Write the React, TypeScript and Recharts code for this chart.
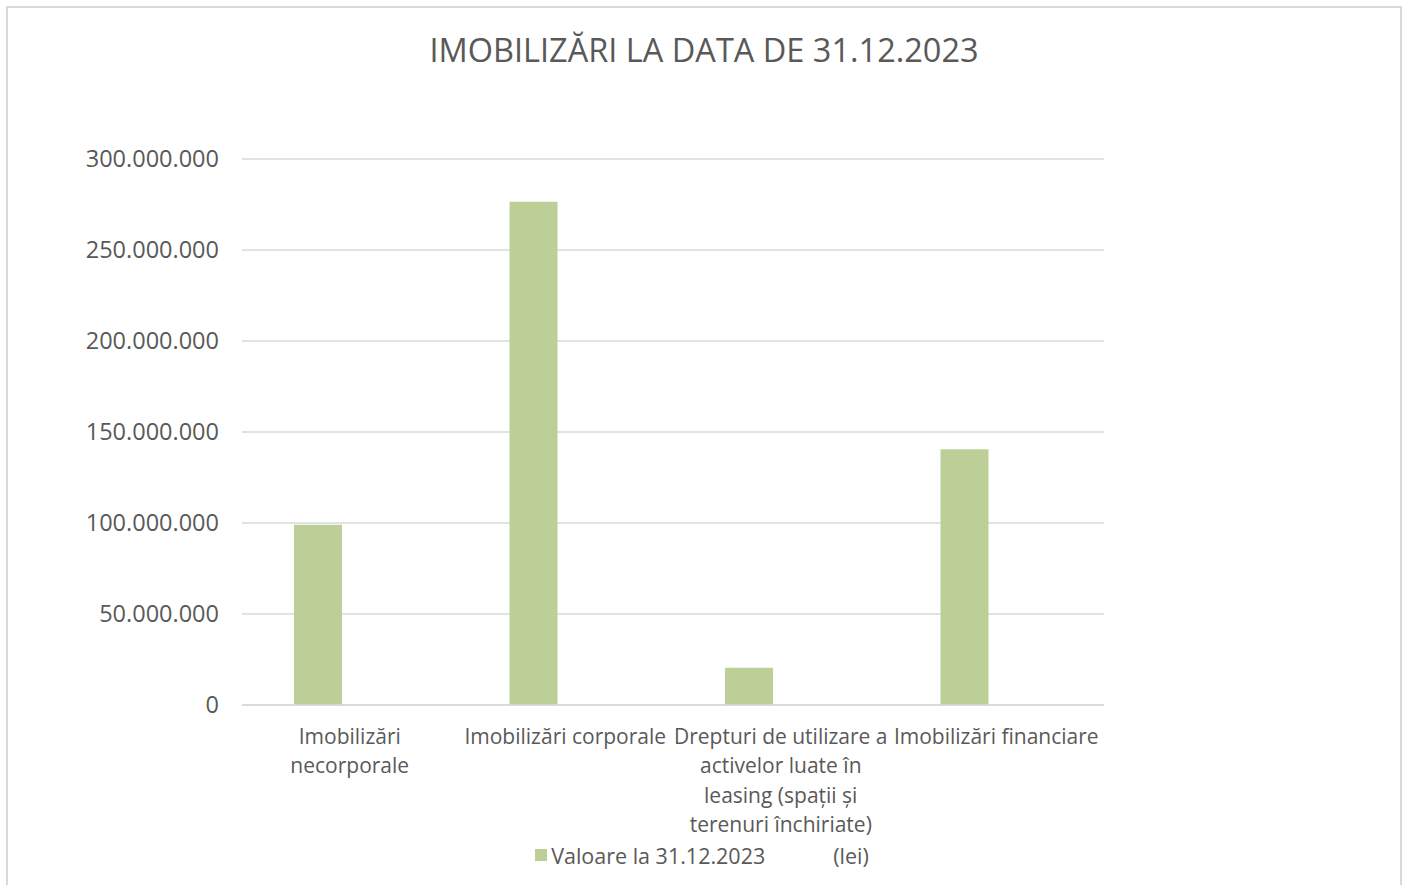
import React from "react";
import { Bar, BarChart, CartesianGrid, Legend, XAxis, YAxis } from "recharts";

const categories = [
  "Imobilizări\nnecorporale",
  "Imobilizări corporale",
  "Drepturi de utilizare a\nactivelor luate în\nleasing (spații și\nterenuri închiriate)",
  "Imobilizări financiare",
];
const values = [99000000, 276500000, 20500000, 140500000];
// the "(lei)" series has no values in the source chart
const leiValues = [null, null, null, null];
const yTicks = [0, 50000000, 100000000, 150000000, 200000000, 250000000, 300000000];
const seriesName = "Valoare la 31.12.2023";
const leiName = "(lei)";
const title = "IMOBILIZĂRI LA DATA DE 31.12.2023";

const data = categories.map((c, i) => ({ cat: c, val: values[i], lei: leiValues[i] }));

const FONT = "'Open Sans', 'DejaVu Sans', sans-serif";
const TEXT = "#595959";
const GRID = "#D9D9D9";
const BAR = "#BBCF96";

const fmt = (v: number) => (v === 0 ? "0" : v.toLocaleString("de-DE"));

function CatTick({ x, y, payload }: { x?: number; y?: number; payload?: { value: string } }) {
  const lines = String(payload?.value ?? "").split("\n");
  return (
    <text x={x} y={y} textAnchor="middle" fill={TEXT} fontSize={21} fontFamily={FONT}>
      {lines.map((l, i) => (
        <tspan key={i} x={x} dy={i === 0 ? 31 : 29.3}>
          {l}
        </tspan>
      ))}
    </text>
  );
}

function LegendContent({ payload }: { payload?: { value: string; dataKey?: string }[] }) {
  const items = [...(payload ?? [])].sort((a) => (a.dataKey === "val" ? -1 : 1));
  return (
    <div style={{ display: "flex", justifyContent: "center", height: 28, alignItems: "center", paddingRight: 4 }}>
      {items.map((p, i) => (
        <div key={p.value} style={{ display: "flex", alignItems: "center", marginLeft: i === 0 ? 0 : 52 }}>
          <span
            style={{
              width: 12,
              height: 12,
              background: p.dataKey === "val" ? BAR : "transparent",
              marginRight: 4,
              display: "inline-block",
            }}
          />
          <span style={{ whiteSpace: "pre", fontSize: 21.5, color: TEXT, fontFamily: FONT }}>{p.value}</span>
        </div>
      ))}
    </div>
  );
}

export default function App() {
  return (
    <div style={{ position: "fixed", left: 0, top: 0, width: 1408, height: 885, overflow: "hidden", background: "#fff" }}>
      <div
        style={{
          position: "absolute",
          left: 6,
          top: 6,
          width: 1392,
          height: 900,
          border: `2px solid ${GRID}`,
        }}
      />
      <div
        style={{
          position: "absolute",
          left: 0,
          top: 27,
          width: 1408,
          textAlign: "center",
          fontFamily: FONT,
          fontSize: 32.5,
          color: TEXT,
          lineHeight: "46px",
        }}
      >
        {title}
      </div>
      <div style={{ position: "absolute", left: 0, top: 0 }}>
        <BarChart
          width={1408}
          height={885}
          data={data}
          margin={{ top: 159, right: 304, left: 0, bottom: 22 }}
          barGap={16}
        >
          <CartesianGrid vertical={false} stroke={GRID} strokeWidth={1.5} />
          <XAxis
            dataKey="cat"
            height={130}
            tick={<CatTick />}
            tickLine={false}
            axisLine={{ stroke: GRID, strokeWidth: 1.5 }}
            interval={0}
          />
          <YAxis
            width={242}
            domain={[0, 300000000]}
            ticks={yTicks}
            tickFormatter={fmt}
            tickLine={false}
            axisLine={false}
            tickMargin={17}
            tick={{ fill: TEXT, fontSize: 23.5, fontFamily: FONT }}
          />
          <Legend content={<LegendContent />} wrapperStyle={{ bottom: 16, left: 0, width: 1408 }} />
          <Bar dataKey="val" name={seriesName} fill={BAR} barSize={48} isAnimationActive={false} />
          <Bar dataKey="lei" name={leiName} fill="none" barSize={48} isAnimationActive={false} />
        </BarChart>
      </div>
    </div>
  );
}
